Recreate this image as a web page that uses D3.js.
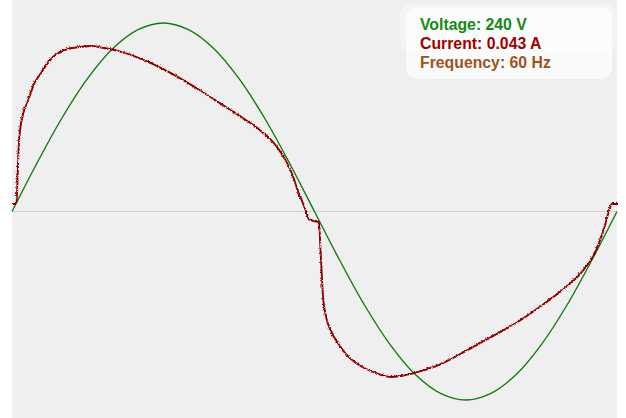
<!DOCTYPE html>
<html>
<head>
<meta charset="utf-8">
<script src="https://cdn.jsdelivr.net/npm/d3@7"></script>
<style>
  html, body { margin: 0; padding: 0; background: #ffffff; }
  svg { display: block; }
</style>
</head>
<body>
<div id="chart"></div>
<script>
// ---- data (time in ms over one 60 Hz cycle) ----
const voltageTime = [0, 0.694, 1.389, 2.083, 2.778, 3.472, 4.167, 4.861, 5.556, 6.25, 6.944, 7.639, 8.333,
  9.028, 9.722, 10.417, 11.111, 11.806, 12.5, 13.194, 13.889, 14.583, 15.278, 15.972, 16.667];
const voltageValues = [0, 88, 170, 240, 294, 328, 340, 328, 294, 240, 170, 88, 0,
  -88, -170, -240, -294, -328, -340, -328, -294, -240, -170, -88, 0];

const currentTime = [0, 0.096, 0.124, 0.152, 0.193, 0.248, 0.303, 0.413, 0.579, 0.771, 0.964, 1.13, 1.32, 1.52,
  1.87, 2.15, 2.51, 2.89, 3.33, 3.80, 4.35, 5.18, 5.73, 6.28, 6.83, 7.25, 7.52, 7.71, 7.85, 7.96, 8.07, 8.15,
  8.29, 8.43, 8.46, 8.49, 8.54, 8.62, 8.76, 8.95, 9.17, 9.45, 9.73, 10.06, 10.41, 10.69, 11.05, 11.79, 12.48,
  13.17, 13.86, 14.55, 15.10, 15.65, 16.06, 16.28, 16.42, 16.50, 16.667];
const currentValues = [4.0, 4.0, 14.3, 27.7, 36.7, 42.1, 45.6, 50.1, 57.7, 62.6, 67.1, 70.2, 72.0, 73.4,
  74.3, 74.7, 73.8, 72.5, 70.2, 67.1, 62.6, 54.6, 48.8, 43.0, 36.7, 30.0, 23.3, 16.6, 9.8, 5.4, 0.9, -2.7,
  -3.6, -4.0, -12.5, -22.4, -37.1, -46.1, -52.8, -58.2, -63.1, -67.1, -69.8, -72.0, -73.4, -72.9, -71.6, -67.6, -61.7,
  -55.5, -49.2, -41.6, -34.9, -26.8, -17.0, -7.2, 0.9, 4.0, 4.0]; // mA

const legendLabels = ["Voltage: 240 V", "Current: 0.043 A", "Frequency: 60 Hz"];
const legendColors = ["#148a14", "#a00000", "#a0521d"];

// ---- layout ----
const W = 626, H = 418;
const plot = { left: 12, right: 617, top: 0, bottom: 418 };
const zeroY = 212;

const svg = d3.select("#chart").append("svg").attr("width", W).attr("height", H);

const defs = svg.append("defs");
const f = defs.append("filter").attr("id", "jitter")
  .attr("x", "-5%").attr("y", "-5%").attr("width", "110%").attr("height", "110%");
f.append("feTurbulence").attr("type", "turbulence").attr("baseFrequency", "0.55 0.55")
  .attr("numOctaves", 1).attr("seed", 3).attr("result", "noise");
f.append("feDisplacementMap").attr("in", "SourceGraphic").attr("in2", "noise")
  .attr("scale", 2.5).attr("xChannelSelector", "R").attr("yChannelSelector", "G");

svg.append("rect").attr("x", plot.left).attr("y", plot.top)
  .attr("width", plot.right - plot.left).attr("height", plot.bottom - plot.top)
  .attr("fill", "#efefef");

const x = d3.scaleLinear().domain([0, 16.667]).range([plot.left, plot.right]);
const yV = d3.scaleLinear().domain([-340, 340]).range([zeroY + 188, zeroY - 189]);
const yI = d3.scaleLinear().domain([-85, 85]).range([zeroY + 190, zeroY - 190]);

svg.append("line").attr("x1", plot.left).attr("x2", plot.right)
  .attr("y1", yV(0)).attr("y2", yV(0))
  .attr("stroke", "#d0d0d0").attr("stroke-width", 1.2);

const vData = voltageTime.map((t, i) => [t, voltageValues[i]]);
const iData = currentTime.map((t, i) => [t, currentValues[i]]);

svg.append("path")
  .attr("d", d3.line().x(d => x(d[0])).y(d => yV(d[1])).curve(d3.curveCatmullRom)(vData))
  .attr("fill", "none").attr("stroke", "#137a13").attr("stroke-width", 1.4);

svg.append("path")
  .attr("d", d3.line().x(d => x(d[0])).y(d => yI(d[1])).curve(d3.curveMonotoneX)(iData))
  .attr("fill", "none").attr("stroke", "#8e0000").attr("stroke-width", 1.9)
  .attr("filter", "url(#jitter)");

// legend
const lg = svg.append("g");
lg.append("rect").attr("x", 400).attr("y", 4).attr("width", 216).attr("height", 48)
  .attr("rx", 10).attr("fill", "#ffffff").attr("fill-opacity", 0.35);
lg.append("rect").attr("x", 406).attr("y", 7).attr("width", 206).attr("height", 72)
  .attr("rx", 12).attr("fill", "#ffffff").attr("fill-opacity", 0.7);
lg.selectAll("text").data(legendLabels).join("text")
  .attr("x", 420).attr("y", (d, i) => 30 + i * 19)
  .attr("fill", (d, i) => legendColors[i])
  .attr("font-family", "'Liberation Sans', Arial, sans-serif")
  .attr("font-weight", "bold").attr("font-size", "15.8px")
  .text(d => d);
</script>
</body>
</html>
